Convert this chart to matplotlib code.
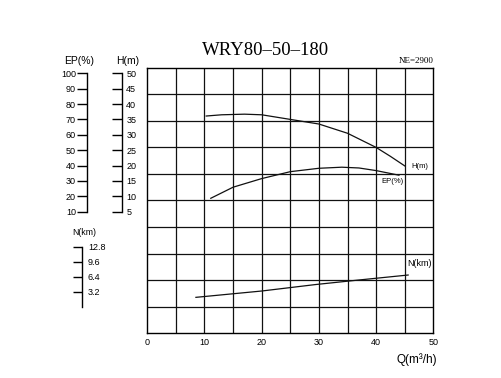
import numpy as np
import matplotlib
matplotlib.use('Agg')
import matplotlib.pyplot as plt

W, H = 502, 378

# curve data
q_h = [10.3, 13, 17, 20, 25, 30, 35, 40, 42.5, 45]
h_m = [36.1, 36.5, 36.7, 36.5, 35.0, 33.5, 30.5, 25.9, 23.0, 19.9]

q_ep = [11.1, 15, 20, 25, 30, 34, 37, 40, 44]
ep = [18.7, 25.9, 31.5, 36.0, 38.2, 38.9, 38.4, 36.7, 33.7]

q_n = [8.5, 20, 29.5, 37, 45.6]
n_kw = [2.0, 3.35, 4.74, 5.7, 6.76]

ep_ticks = [10, 20, 30, 40, 50, 60, 70, 80, 90, 100]
h_ticks = [5, 10, 15, 20, 25, 30, 35, 40, 45, 50]
n_ticks = [3.2, 6.4, 9.6, 12.8]
q_ticks = [0, 10, 20, 30, 40, 50]

SANS = 'Liberation Sans'
SERIF = 'Liberation Serif'
TICK_FS = 6.5


def box(x0, y0, x1, y1):
    # pixel box (top-left origin) -> figure fraction
    return [x0 / W, 1 - y1 / H, (x1 - x0) / W, (y1 - y0) / H]


fig = plt.figure(figsize=(W / 100, H / 100), dpi=100)

# main grid
ax = fig.add_axes(box(147.3, 67.7, 433.3, 333.3))
ax.set_xlim(0, 50)
ax.set_ylim(0, 10)
for v in np.arange(5, 50, 5):
    ax.axvline(v, color='#111111', lw=0.9)
for v in range(1, 10):
    ax.axhline(v, color='#111111', lw=0.9)
for s in ax.spines.values():
    s.set_linewidth(1.0)
ax.set_xticks(q_ticks)
ax.set_xticklabels([str(t) for t in q_ticks], fontsize=TICK_FS, family=SANS)
ax.set_yticks([])
ax.tick_params(axis='x', length=0, pad=3.5)


def overlay(lo, hi):
    a = fig.add_axes(box(147.3, 67.7, 433.3, 333.3), sharex=ax)
    a.set_ylim(lo, hi)
    a.patch.set_alpha(0)
    a.axis('off')
    return a


# y ranges chosen so the curves line up with the side scales
a_h = overlay(-34.5, 51.8)
a_h.plot(q_h, h_m, color='#111111', lw=0.9)
a_ep = overlay(-69.1, 103.6)
a_ep.plot(q_ep, ep, color='#111111', lw=0.9)
a_n = overlay(-5.67, 50.98)
a_n.plot(q_n, n_kw, color='#111111', lw=0.9)

# EP scale
s_ep = fig.add_axes(box(87.3, 73.3, 87.3, 211.7))
s_ep.set_ylim(10, 100)
s_ep.set_xticks([])
s_ep.set_yticks(ep_ticks)
s_ep.set_yticklabels([str(t) for t in ep_ticks], fontsize=TICK_FS, family=SANS)
for k in ['top', 'bottom', 'right']:
    s_ep.spines[k].set_visible(False)
s_ep.spines['left'].set_linewidth(1.0)
s_ep.tick_params(axis='y', length=7.2, width=1.0, pad=1)

# H scale
s_h = fig.add_axes(box(122, 73.3, 122, 211.7))
s_h.set_ylim(5, 50)
s_h.set_xticks([])
s_h.set_yticks(h_ticks)
s_h.set_yticklabels([str(t) for t in h_ticks], fontsize=TICK_FS, family=SANS)
for k in ['top', 'bottom', 'left']:
    s_h.spines[k].set_visible(False)
s_h.spines['right'].set_linewidth(1.0)
s_h.tick_params(axis='y', left=False, labelleft=False, right=True, labelright=True,
                direction='in', length=7.4, width=1.0, pad=3)

# N scale
s_n = fig.add_axes(box(81.7, 246.7, 81.7, 306.7))
s_n.set_ylim(0, 12.8)
s_n.set_xticks([])
s_n.set_yticks(n_ticks)
s_n.set_yticklabels([str(t) for t in n_ticks], fontsize=TICK_FS, family=SANS)
for k in ['top', 'bottom', 'left']:
    s_n.spines[k].set_visible(False)
s_n.spines['right'].set_linewidth(1.0)
s_n.tick_params(axis='y', left=False, labelleft=False, right=True, labelright=True,
                direction='in', length=6.5, width=1.0, pad=4.5)


def ftext(x, y, s, **kw):
    fig.text(x / W, 1 - y / H, s, **kw)


ftext(79, 60.7, 'EP(%)', fontsize=7.5, family=SANS, ha='center', va='center')
ftext(127.5, 60.7, 'H(m)', fontsize=7.5, family=SANS, ha='center', va='center')
ftext(84.7, 232.3, 'N(km)', fontsize=6.3, family=SANS, ha='center', va='center')

ftext(266, 50.5, 'WRY80\u201350\u2013180', fontsize=13.5, family=SERIF,
      ha='center', va='center')
ftext(433.3, 60.7, 'NE=2900', fontsize=6.5, family=SERIF, ha='right', va='center')
ftext(436.7, 360, 'Q(m³/h)', fontsize=8.5, family=SANS, ha='right', va='center')

ftext(411, 166.7, 'H(m)', fontsize=5.5, family=SANS, ha='left', va='center')
ftext(381.7, 181.7, 'EP(%)', fontsize=5.5, family=SANS, ha='left', va='center')
ftext(407.3, 263.3, 'N(km)', fontsize=6.5, family=SANS, ha='left', va='center')

fig.savefig('out.png', dpi=100)
